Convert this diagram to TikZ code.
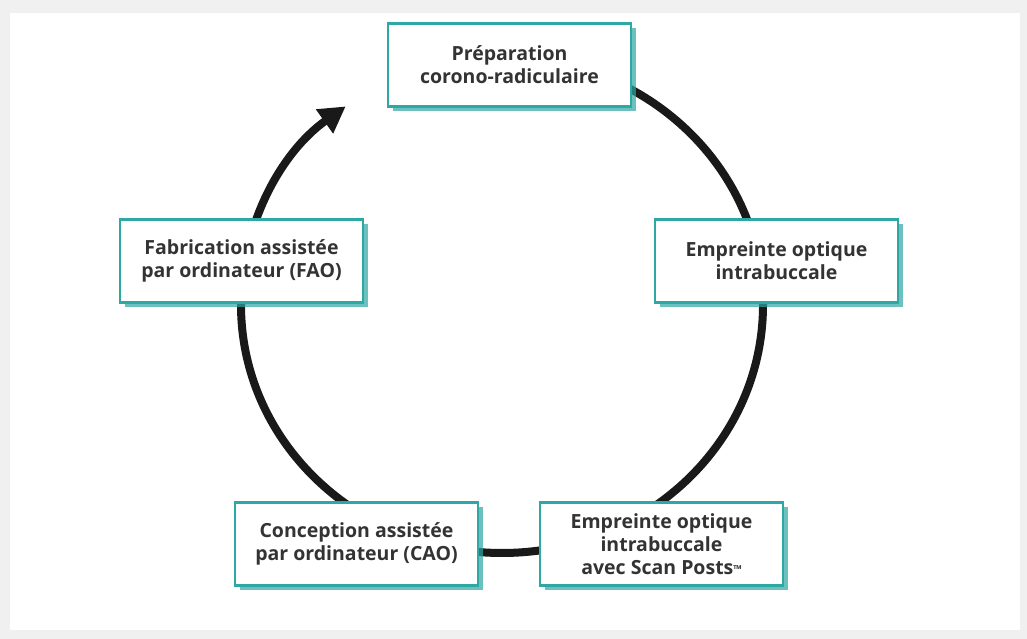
\documentclass[tikz,border=0pt]{standalone}
\usepackage{fontspec}
\setmainfont{Open Sans}
\usepackage{tikz}
\usetikzlibrary{arrows,arrows.meta,positioning,shadows,backgrounds}
\definecolor{boxteal}{HTML}{2EA8A4}
\definecolor{textgray}{HTML}{333333}
\definecolor{framegray}{HTML}{F0F0F0}

\begin{document}
\begin{tikzpicture}[x=1pt,y=1pt,on grid,
				main node/.style={rectangle,draw=boxteal,line width=2.5pt,fill=white,
					minimum width=243pt,minimum height=83pt,align=center,text=textgray,
					font=\fontsize{19.5}{23}\selectfont\bfseries,
					drop shadow={shadow xshift=5pt,shadow yshift=-5pt,fill=boxteal,opacity=0.7}},
				ring/.style={line width=8pt,draw=black!90}]
				
				\useasboundingbox (0,0) rectangle (1027,639);
				
				\node[main node] (P) at (509.5,574) {Préparation\\corono-radiculaire};
				\node[main node] (E) [below right=196pt and 267pt of P] {Empreinte optique\\intrabuccale};
				\node[main node] (S) [below right=479pt and 152pt of P] {Empreinte optique\\intrabuccale\\avec Scan Posts{\fontsize{11}{11}\selectfont\raisebox{1pt}{™}}};
				\node[main node] (C) [below left=479pt and 153pt of P] {Conception assistée\\par ordinateur (CAO)};
				\node[main node] (F) [below left=196pt and 268pt of P] {Fabrication assistée\\par ordinateur (FAO)};
				\coordinate (O) at ([shift={(-7.5,-240)}]P.center);
				
				\begin{pgfonlayer}{background}
				\fill[framegray] (0,0) rectangle (1027,639);
				\fill[white] (10,9) rectangle (1020,626);
				% cycle P -> E -> S -> C -> F -> P
				\draw[ring,-{Triangle[length=26pt,width=28pt]}] (O) ++(90:261pt and 248pt)
				arc[start angle=90,end angle=-233.2,x radius=261pt,y radius=248pt] coordinate (T);
				\end{pgfonlayer}
			\end{tikzpicture}
\end{document}
